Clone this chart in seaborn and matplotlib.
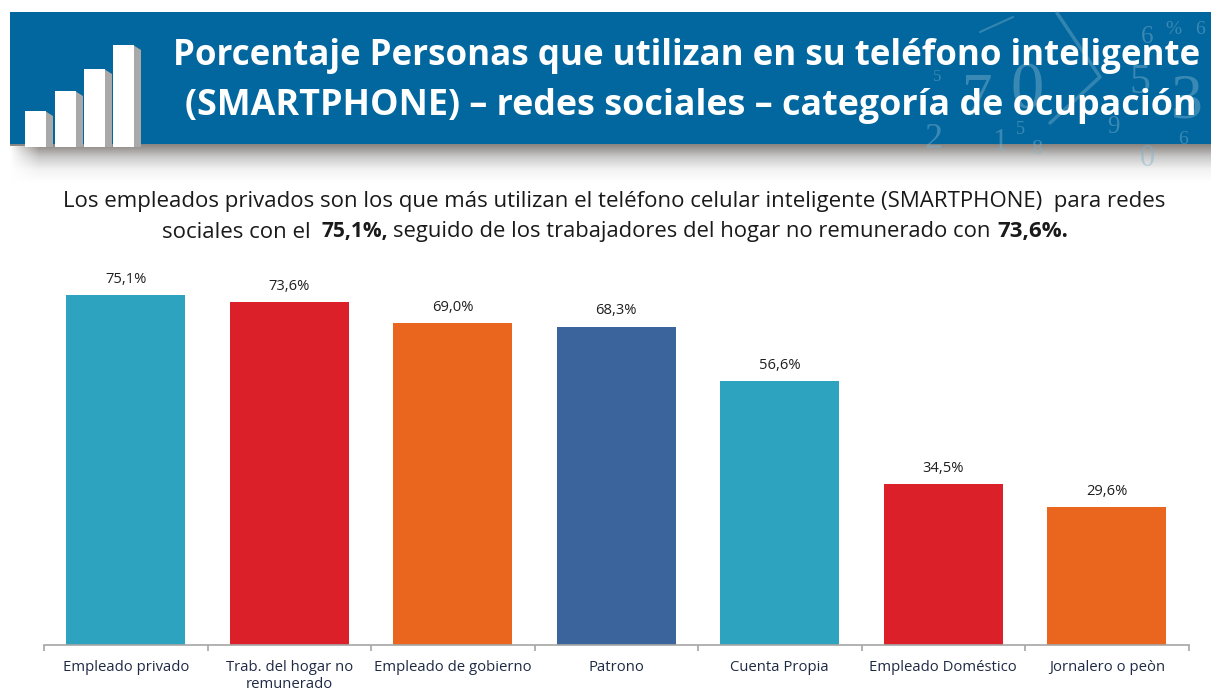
import numpy as np
import pandas as pd
import matplotlib
matplotlib.use('Agg')
import matplotlib.pyplot as plt
from matplotlib.patches import Rectangle, Polygon
import seaborn as sns

# Values
categorias = ['Empleado privado', 'Trab. del hogar no\nremunerado', 'Empleado de gobierno',
              'Patrono', 'Cuenta Propia', 'Empleado Doméstico', 'Jornalero o peòn']
porcentajes = [75.1, 73.6, 69.0, 68.3, 56.6, 34.5, 29.6]
colores = ['#2EA3C0', '#DC2029', '#EA661E', '#3B649C', '#2EA3C0', '#DC2029', '#EA661E']

titulo_1 = 'Porcentaje Personas que utilizan en su teléfono inteligente'
titulo_2 = '(SMARTPHONE) – redes sociales – categoría de ocupación'
texto_1 = 'Los empleados privados son los que más utilizan el teléfono celular inteligente (SMARTPHONE)  para redes'
texto_2 = 'sociales con el'
texto_3 = '75,1%,'
texto_4 = 'seguido de los trabajadores del hogar no remunerado con'
texto_5 = '73,6%.'

# Faint digits in the banner background: (x, y, text, size)
digitos = [(1187, 103, '3', 46), (1027, 92, '0', 48), (977, 100, '7', 44),
           (1140, 83, '5', 30), (1113, 127, '9', 18), (1020, 130, '5', 13),
           (1183, 140, '6', 14), (1200, 30, '6', 14), (1173, 30, '%', 14),
           (1147, 37, '6', 18), (933, 140, '2', 26), (1000, 142, '1', 22),
           (1037, 150, '8', 16), (1147, 158, '0', 22), (937, 77, '5', 12)]

sns.set_theme(style='white')
plt.rcParams['font.family'] = ['Open Sans', 'DejaVu Sans']

W, H = 1211, 692
fig = plt.figure(figsize=(W / 100, H / 100), dpi=100)

# full figure layer in pixel coordinates for the banner
bg = fig.add_axes([0, 0, 1, 1])
bg.axis('off')

bg.add_patch(Rectangle((10, 12), W - 10, 132, color='#02679E', lw=0, zorder=1))
# shadow under the banner
sombra = np.linspace(0, 1, 40).reshape(-1, 1)
cmap = matplotlib.colors.LinearSegmentedColormap.from_list('s', ['#8A8581', '#C9C9C9', '#F2F2F2', '#FFFFFF'])
bg.imshow(sombra, extent=(10, W, 182, 144), cmap=cmap, aspect='auto', zorder=1)
# fade the left end of the shadow
fade = np.zeros((1, 30, 4))
fade[..., :3] = 1
fade[0, :, 3] = np.linspace(1, 0, 30)
bg.imshow(fade, extent=(10, 40, 182, 146), aspect='auto', zorder=1.5)
bg.set_xlim(0, W)
bg.set_ylim(H, 0)

caja = Rectangle((10, 12), W - 10, 170, transform=bg.transData)
for x, y, s, size in digitos:
    t = bg.text(x, y, s, color='#7FB4D0', alpha=0.45, fontsize=size,
                family='Liberation Serif', ha='center', va='center', zorder=2)
    t.set_clip_path(caja)
# thin strokes of the big sigma and the slash behind the digits
bg.plot([1057, 1100, 1050], [13, 77, 123], color='#7FB4D0', alpha=0.4, lw=2.5, zorder=2)
bg.plot([980, 1013], [32, 17], color='#7FB4D0', alpha=0.4, lw=1.5, zorder=2)

# small bar icon
for x0, top in [(25, 111), (55, 91), (84, 69), (113, 45)]:
    bg.add_patch(Polygon([(x0 + 20, top), (x0 + 28, top + 5), (x0 + 28, 147), (x0 + 20, 147)],
                         color='#A9A9A9', lw=0, zorder=3))
    bg.add_patch(Rectangle((x0, top), 21, 147 - top, color='white', lw=0, zorder=4))

bg.text(687, 56, titulo_1, color='white', fontsize=25.1, fontweight='bold', ha='center', va='center', zorder=5)
bg.text(691, 106, titulo_2, color='white', fontsize=25.8, fontweight='bold', ha='center', va='center', zorder=5)

# paragraph, bold parts placed by hand
color_texto = '#1A1A1A'
bg.text(614, 201, texto_1, color=color_texto, fontsize=16, ha='center', va='center')
bg.text(162, 232, texto_2, color=color_texto, fontsize=16, ha='left', va='center')
bg.text(322, 232, texto_3, color=color_texto, fontsize=15, fontweight='bold', ha='left', va='center')
bg.text(393, 232, texto_4, color=color_texto, fontsize=15.85, ha='left', va='center')
bg.text(997, 232, texto_5, color=color_texto, fontsize=16, fontweight='bold', ha='left', va='center')

# chart
y_top = 272
y_base = 645
x_left = 44
x_right = 1188.5
ax = fig.add_axes([x_left / W, 1 - y_base / H, (x_right - x_left) / W, (y_base - y_top) / H])
ax.patch.set_alpha(0)

df = pd.DataFrame({'categoria': categorias, 'valor': porcentajes})
sns.barplot(data=df, x='categoria', y='valor', hue='categoria', palette=colores, legend=False,
            width=0.727, saturation=1, linewidth=0, ax=ax)
ax.set_xlim(-0.5, 6.5)
ax.set_ylim(0, (y_base - y_top) / 4.66)
ax.set_xlabel('')
ax.set_ylabel('')
ax.set_yticks([])

for i, v in enumerate(porcentajes):
    ax.text(i, v + 3.4, f'{v:.1f}%'.replace('.', ','), ha='center', va='center', fontsize=10.6, color='#1F1F1F')

sns.despine(ax=ax, left=True)
ax.spines['bottom'].set_color('#A6A6A6')
ax.spines['bottom'].set_linewidth(1.2)
ax.set_xticks(range(len(categorias)))
ax.set_xticklabels(categorias, fontsize=10.7, color='#1F2A44', linespacing=1.15)
ax.tick_params(axis='x', which='major', length=0, pad=11)
ax.set_xticks(np.arange(-0.5, 7), minor=True)
ax.tick_params(axis='x', which='minor', length=4.5, width=1.2, color='#A6A6A6', bottom=True)

fig.savefig('out.png', dpi=100)
